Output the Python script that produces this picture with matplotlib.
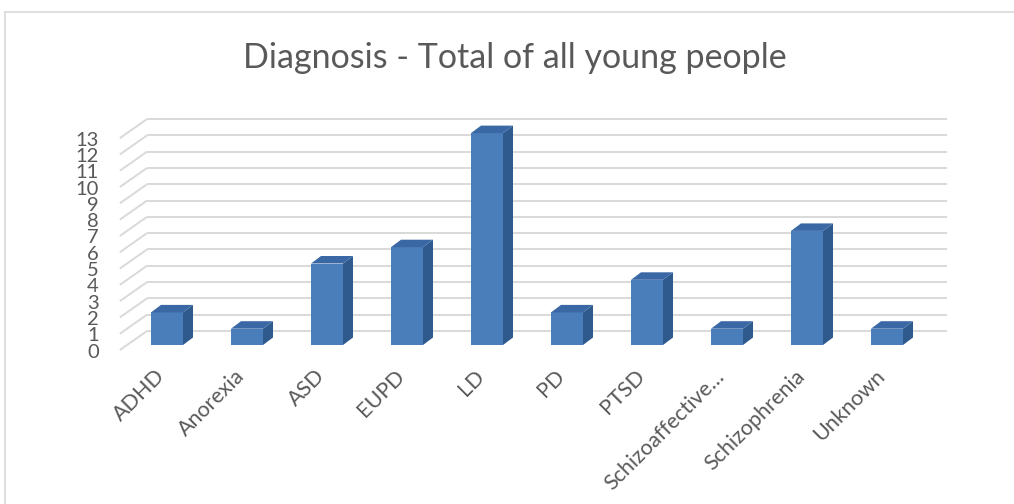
import matplotlib
matplotlib.use("Agg")
import matplotlib.pyplot as plt
from matplotlib.patches import Polygon
from matplotlib.lines import Line2D

# Diagnosis counts
categories = ["ADHD", "Anorexia", "ASD", "EUPD", "LD", "PD", "PTSD",
              "Schizoaffective\u2026", "Schizophrenia", "Unknown"]
counts = [2, 1, 5, 6, 13, 2, 4, 1, 7, 1]
y_ticks = list(range(0, 14))

plt.rcParams['font.family'] = ['Lato', 'DejaVu Sans']

# oblique projection offsets, in data units
FLOOR_FRONT = (-0.09, -0.31)
FLOOR_BACK = (0.25, 0.86)
BAR_DEPTH = (0.125, 0.46)
BAR_HALF = 0.2

FRONT_C = '#4a7ebb'
TOP_C = '#3a68a5'
SIDE_C = '#2f5a8e'
GRID_C = '#d9d9d9'
TEXT_C = '#595959'

fig = plt.figure(figsize=(10.14, 5.04), dpi=100)
ax = fig.add_axes([0.04635, 0.2508, 0.9073, 0.5336])
ax.set_xlim(-1.5, 10.0)
ax.set_ylim(-2.0, 14.5)
ax.axis('off')

x_lo = -0.5
x_hi = len(categories) - 0.5

# gridlines: side-wall stub plus back-wall line
for v in y_ticks:
    ax.plot([x_lo + FLOOR_FRONT[0], x_lo + FLOOR_BACK[0]],
            [v + FLOOR_FRONT[1], v + FLOOR_BACK[1]],
            color=GRID_C, lw=1.4, solid_capstyle='butt', zorder=1)
    ax.plot([x_lo + FLOOR_BACK[0], x_hi + FLOOR_BACK[0]],
            [v + FLOOR_BACK[1], v + FLOOR_BACK[1]],
            color=GRID_C, lw=1.4, solid_capstyle='butt', zorder=1)
    ax.text(x_lo + FLOOR_FRONT[0] - 0.26, v + FLOOR_FRONT[1] - 0.12, str(v),
            ha='right', va='center', fontsize=14.5, color=TEXT_C)

# 3-D columns
dx, dy = BAR_DEPTH
for i, val in enumerate(counts):
    l, r = i - BAR_HALF, i + BAR_HALF
    front = Polygon([(l, 0), (r, 0), (r, val), (l, val)], closed=True,
                    facecolor=FRONT_C, edgecolor='none', zorder=3)
    side = Polygon([(r, 0), (r + dx, dy), (r + dx, val + dy), (r, val)],
                   closed=True, facecolor=SIDE_C, edgecolor='none', zorder=3)
    top = Polygon([(l, val), (r, val), (r + dx, val + dy), (l + dx, val + dy)],
                  closed=True, facecolor=TOP_C, edgecolor='none', zorder=3)
    for p in (front, side, top):
        ax.add_patch(p)
    ax.text(i - 0.07, -1.72, categories[i], rotation=45, rotation_mode='anchor',
            ha='right', va='center', fontsize=15.5, color=TEXT_C, clip_on=False)

fig.text(0.508, 0.884, "Diagnosis - Total of all young people",
         ha='center', va='center', fontsize=24.5, color=TEXT_C)

# chart area border
top_y = 1 - 12 / 504
left_x = 5 / 1014
fig.add_artist(Line2D([left_x, 1.0], [top_y, top_y], color=GRID_C, lw=1.2))
fig.add_artist(Line2D([left_x, left_x], [0.0, top_y], color=GRID_C, lw=1.2))

fig.savefig("out.png", dpi=100, facecolor='white')
